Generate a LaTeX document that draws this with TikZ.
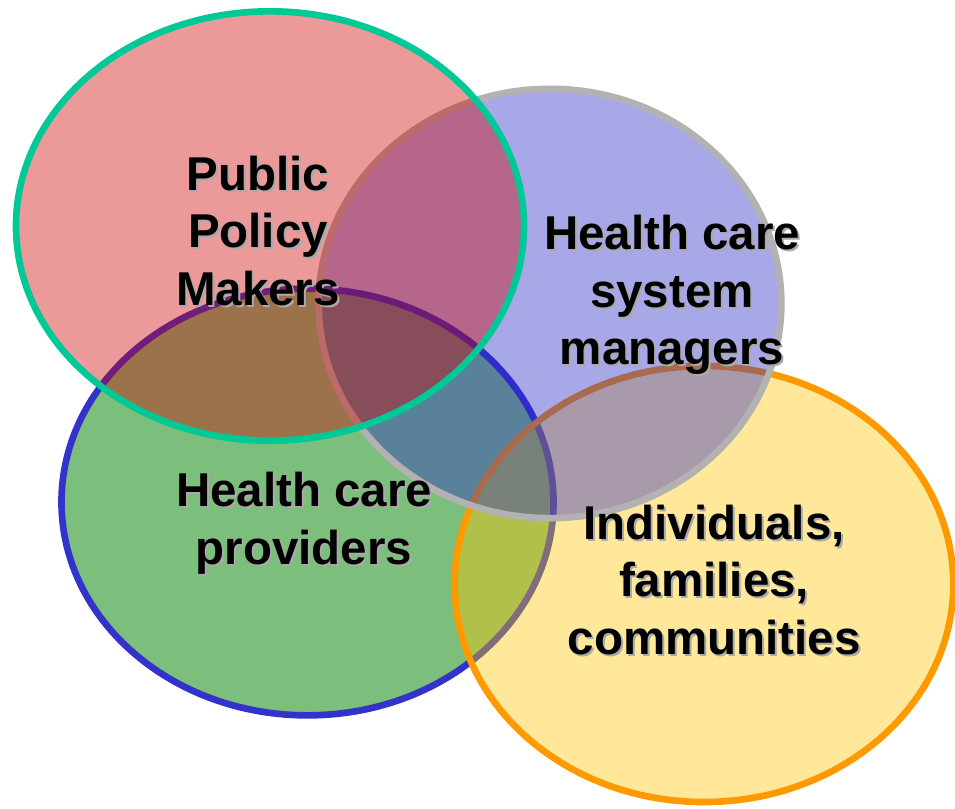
\documentclass[tikz,border=0pt]{standalone}
\usepackage{fontspec}
\setmainfont{Liberation Sans}
\usetikzlibrary{shapes.geometric}
\definecolor{redfill}{RGB}{204,0,0}
\definecolor{redline}{RGB}{0,200,150}
\definecolor{bluefill}{RGB}{38,38,198}
\definecolor{blueline}{RGB}{178,178,178}
\definecolor{greenfill}{RGB}{124,190,124}
\definecolor{greenline}{RGB}{51,51,204}
\definecolor{yellowfill}{RGB}{255,197,0}
\definecolor{yellowline}{RGB}{255,153,0}
\definecolor{shadowgray}{RGB}{170,170,170}
\newcommand\shd[1]{\leavevmode\rlap{\kern1.5pt\raisebox{-1.5pt}{\textcolor{shadowgray}{#1}}}#1}
\begin{document}
\begin{tikzpicture}[x=0.75pt, y=-0.75pt,
	venn/.style={ellipse, draw, line width=5pt, inner sep=0pt, fill opacity=0.4},
	lbl/.style={align=center, font=\fontsize{35.6}{43.2}\selectfont\bfseries}]
			\useasboundingbox (0,0) rectangle (955,808);
			\node[venn, fill=greenfill, fill opacity=1, draw=greenline, minimum width=369pt, minimum height=320pt] (prov) at (307.5, 502) {};
			\node[venn, fill=yellowfill, draw=yellowline, minimum width=374pt, minimum height=327pt] (indiv) at (704, 584) {};
			\node[venn, fill=bluefill, draw=blueline, minimum width=347pt, minimum height=322pt] (mgr) at (550, 303.5) {};
			\node[venn, fill=redfill, draw=redline, minimum width=381pt, minimum height=322pt] (policy) at (270, 226) {};
			\node[lbl] (policytxt) at (258, 232) {\shd{Public}\\\shd{Policy}\\\shd{Makers}};
			\node[lbl] (mgrtxt) at (672, 296) {\shd{Health care}\\\shd{system}\\\shd{managers}};
			\node[lbl] (provtxt) at (304, 524) {\shd{Health care}\\\shd{providers}};
			\node[lbl] (indivtxt) at (714, 581) {\shd{Individuals,}\\\shd{families,}\\\shd{communities}};
\end{tikzpicture}
\end{document}
